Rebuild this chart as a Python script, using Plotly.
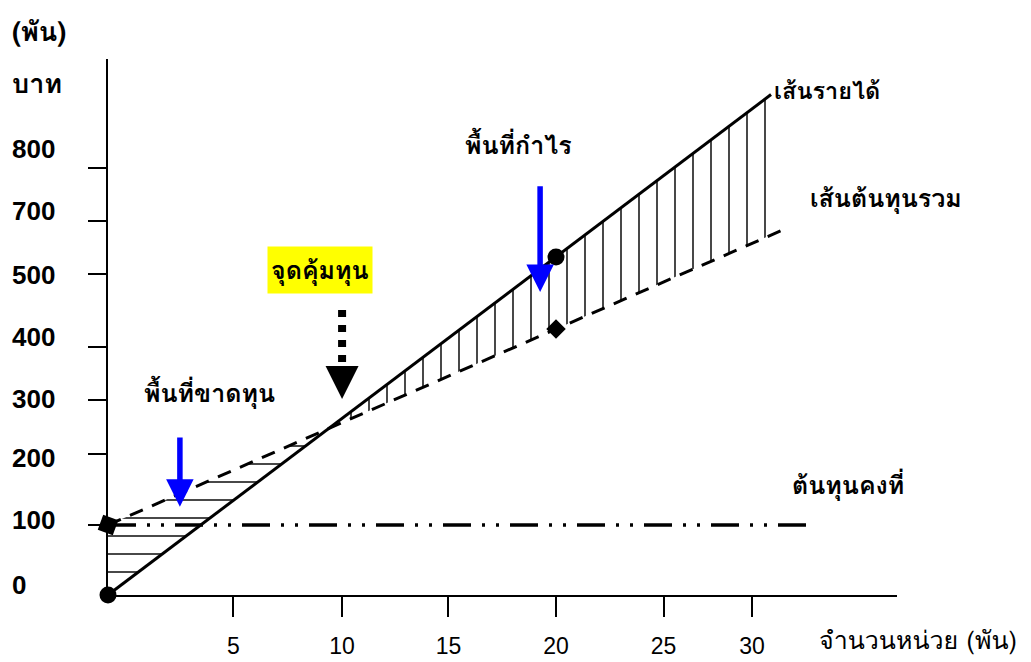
import numpy as np
import plotly.graph_objects as go

# ---- data (thousand units, thousand baht) ----
rev_units = [0, 20, 29.6]
revenue = [0, 483, 715]
cost_units = [0, 20, 30.3]
total_cost = [100, 380, 524]
fixed_units = [0, 31.25]
fixed_cost = [100, 100]
circle_units = [0, 20]
circle_vals = [0, 483]
diamond_units = [0, 20]
diamond_vals = [100, 380]

x_tick_labels = ["5", "10", "15", "20", "25", "30"]
x_tick_pos = [5.6, 10.45, 15.2, 20, 24.8, 28.75]
y_tick_pos = [610, 535, 458, 355, 279, 202, 100]
y_tick_labels = ["800", "700", "500", "400", "300", "200", "100", "0"]
y_label_pos = [637, 549, 457, 369, 280, 196, 107, 14]

# page has an 8px body margin
OFF = 8
W, H = 1031 - OFF, 662 - OFF
P_L, P_R, P_T, P_B = 108, 897, 59, 595          # plot area in window pixels
ML, MT = P_L - OFF, P_T - OFF
MR, MB = W - (P_R - OFF), H - (P_B - OFF)
PW, PH = P_R - P_L, P_B - P_T
XMAX = PW / 22.4
YMAX = PH / 0.7

THAI = "Tahoma, Loma, Garuda, 'Noto Sans Thai', 'Noto Sans', sans-serif"
NUM = "'Liberation Sans', Arial, sans-serif"


def pxx(p):
    return (p - P_L) / PW


def pxy(p):
    return (P_B - p) / PH


r_slope, r_int = np.polyfit(rev_units, revenue, 1)
c_slope, c_int = np.polyfit(cost_units, total_cost, 1)
be_x = (c_int - r_int) / (r_slope - c_slope)
be_y = r_int + r_slope * be_x
end_x = rev_units[-1]
cost_at_end = float(np.interp(end_x, cost_units, total_cost))

fig = go.Figure()

# loss area (horizontal hatch)
fig.add_trace(go.Scatter(
    x=[0, 0, be_x, 0], y=[revenue[0], total_cost[0], be_y, revenue[0]],
    mode="lines", line=dict(width=0), fill="toself", fillcolor="rgba(0,0,0,0)",
    fillpattern=dict(shape="-", size=18, solidity=0.08, fgcolor="black",
                     bgcolor="rgba(0,0,0,0)", fillmode="replace"),
    hoverinfo="skip", showlegend=False))
# profit area (vertical hatch)
fig.add_trace(go.Scatter(
    x=[be_x, end_x, end_x, be_x], y=[be_y, revenue[-1], cost_at_end, be_y],
    mode="lines", line=dict(width=0), fill="toself", fillcolor="rgba(0,0,0,0)",
    fillpattern=dict(shape="|", size=18, solidity=0.08, fgcolor="black",
                     bgcolor="rgba(0,0,0,0)", fillmode="replace"),
    hoverinfo="skip", showlegend=False))

# fixed cost
fig.add_trace(go.Scatter(x=fixed_units, y=fixed_cost, mode="lines",
                         line=dict(color="black", width=3.5,
                                   dash="28px,11px,3px,11px,3px,11px"),
                         showlegend=False, hoverinfo="skip"))
# total cost
fig.add_trace(go.Scatter(x=cost_units, y=total_cost, mode="lines",
                         line=dict(color="black", width=3, dash="14px,10px"),
                         showlegend=False, hoverinfo="skip"))
# revenue
fig.add_trace(go.Scatter(x=rev_units, y=revenue, mode="lines",
                         line=dict(color="black", width=3),
                         showlegend=False, hoverinfo="skip"))
# markers
fig.add_trace(go.Scatter(x=circle_units, y=circle_vals, mode="markers",
                         marker=dict(symbol="circle", size=17, color="black"),
                         cliponaxis=False, showlegend=False, hoverinfo="skip"))
fig.add_trace(go.Scatter(x=diamond_units[:1], y=diamond_vals[:1], mode="markers",
                         marker=dict(symbol="square", size=16, color="black", angle=20),
                         cliponaxis=False, showlegend=False, hoverinfo="skip"))
fig.add_trace(go.Scatter(x=diamond_units[1:], y=diamond_vals[1:], mode="markers",
                         marker=dict(symbol="diamond", size=15, color="black"),
                         cliponaxis=False, showlegend=False, hoverinfo="skip"))

# break-even dotted arrow shaft
arrow_x = x_tick_pos[1]
fig.add_trace(go.Scatter(x=[arrow_x, arrow_x], y=[407, 331], mode="lines",
                         line=dict(color="black", width=8, dash="7px,8px"),
                         showlegend=False, hoverinfo="skip"))

ann = []
# arrows
ann.append(dict(x=arrow_x, y=280, ax=arrow_x, ay=327, xref="x", yref="y",
                axref="x", ayref="y", text="", showarrow=True, arrowhead=2,
                arrowsize=1.1, arrowwidth=6, arrowcolor="black"))
ann.append(dict(x=3.21, y=126, ax=3.21, ay=227, xref="x", yref="y",
                axref="x", ayref="y", text="", showarrow=True, arrowhead=2,
                arrowsize=1, arrowwidth=5.5, arrowcolor="#0000FF"))
ann.append(dict(x=19.29, y=433, ax=19.29, ay=586, xref="x", yref="y",
                axref="x", ayref="y", text="", showarrow=True, arrowhead=2,
                arrowsize=1, arrowwidth=5.5, arrowcolor="#0000FF"))

# y labels (left aligned, as in the drawing)
for lab, pos in zip(y_tick_labels, y_label_pos):
    ann.append(dict(x=pxx(10), y=pos, xref="paper", yref="y", text="<b>%s</b>" % lab,
                    showarrow=False, xanchor="left", yanchor="middle",
                    font=dict(family=NUM, size=26, color="black")))


def txt(s, x, y, xanchor="left", size=25, bold=True, **kw):
    ann.append(dict(x=pxx(x), y=pxy(y), xref="paper", yref="paper",
                    text=("<b>%s</b>" % s) if bold else s, showarrow=False,
                    xanchor=xanchor, yanchor="middle",
                    font=dict(family=THAI, size=size, color="black"), **kw))


txt("(พัน)", 10, 32, size=27)
txt("บาท", 10, 83, size=27)
txt("พื้นที่กำไร", 518, 145, xanchor="center")
txt("พื้นที่ขาดทุน", 209, 393, xanchor="center")
txt("จุดคุ้มทุน", 319.5, 270, xanchor="center", bgcolor="#FFFF00", borderpad=3)
txt("เส้นรายได้", 772, 90, size=23.5)
txt("เส้นต้นทุนรวม", 808, 198)
txt("ต้นทุนคงที่", 790, 485)
txt("จำนวนหน่วย (พัน)", 817, 640, size=25, bold=False)

fig.update_layout(
    template="none",
    width=W, height=H, margin=dict(l=ML, r=MR, t=MT, b=MB, autoexpand=False),
    paper_bgcolor="white", plot_bgcolor="white", annotations=ann,
    showlegend=False,
    xaxis=dict(range=[0, XMAX], showgrid=False, zeroline=False, showline=True,
               automargin=False,
               linecolor="black", linewidth=2, ticks="outside", ticklen=20,
               tickwidth=2, tickcolor="black", tickvals=x_tick_pos,
               ticktext=x_tick_labels, ticklabelstandoff=9,
               tickfont=dict(family=NUM, size=23, color="black")),
    yaxis=dict(range=[0, YMAX], showgrid=False, zeroline=False, showline=True,
               automargin=False,
               linecolor="black", linewidth=2, ticks="outside", ticklen=18,
               tickwidth=2, tickcolor="black", tickvals=y_tick_pos,
               showticklabels=False),
)
fig.write_html("out.html")
